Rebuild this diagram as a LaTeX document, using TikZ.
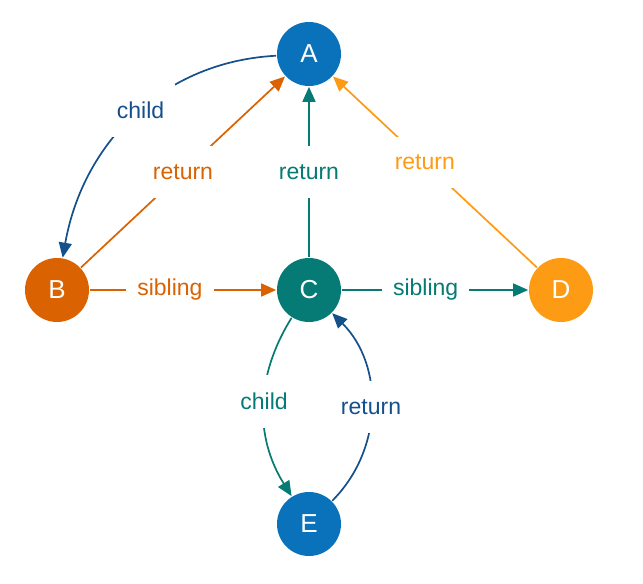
\documentclass[tikz,border=0pt]{standalone}
\usepackage{fontspec}
\setmainfont{Liberation Sans}
\usetikzlibrary{arrows.meta, positioning}
\definecolor{nodeblue}{RGB}{10,114,186}
\definecolor{borange}{RGB}{218,98,0}
\definecolor{cteal}{RGB}{6,122,116}
\definecolor{dorange}{RGB}{254,155,20}
\definecolor{darkblue}{RGB}{20,80,138}
\tikzset{
  state/.style={
    circle,
    minimum size=32pt,
    inner sep=0pt,
    text=white,
    font=\fontsize{13}{13}\selectfont
  },
  lbl/.style={
    fill=white,
    inner xsep=5.5pt,
    inner ysep=9pt,
    font=\fontsize{11.5}{12}\selectfont
  }
}

\begin{document}
\begin{tikzpicture}[->, >={Triangle[length=7.5pt,width=6.5pt]}, node distance=126pt, line width=0.85pt]
        \useasboundingbox (-154.5pt,-147pt) rectangle (167pt,145pt);

        % Define the nodes
        \node[state, fill=cteal]    (c) {C};
        \node[state, fill=borange]  (b) [left of=c] {B};
        \node[state, fill=dorange]  (d) [right of=c] {D};
        \node[state, fill=nodeblue] (a) [above of=c, node distance=118pt] {A};
        \node[state, fill=nodeblue] (e) [below of=c, node distance=117pt] {E};

        % Arrows to the children
        \path (a) edge[darkblue, out=183, in=80] node[lbl, pos=0.47] {child} (b);
        \path (c) edge[cteal, bend right=32] node[lbl, pos=0.47] {child} (e);

        % Arrows to the siblings
        \path (b) edge[borange] node[lbl, pos=0.43] {sibling} (c);
        \path (c) edge[cteal] node[lbl, pos=0.45] {sibling} (d);

        % Arrows back to the parent
        \path (b) edge[borange] node[lbl] {return} (a);
        \path (c) edge[cteal] node[lbl] {return} (a);
        \path (d) edge[dorange] node[lbl, pos=0.55] {return} (a);
        \path (e) edge[darkblue, bend right=45] node[lbl] {return} (c);
    \end{tikzpicture}
\end{document}
